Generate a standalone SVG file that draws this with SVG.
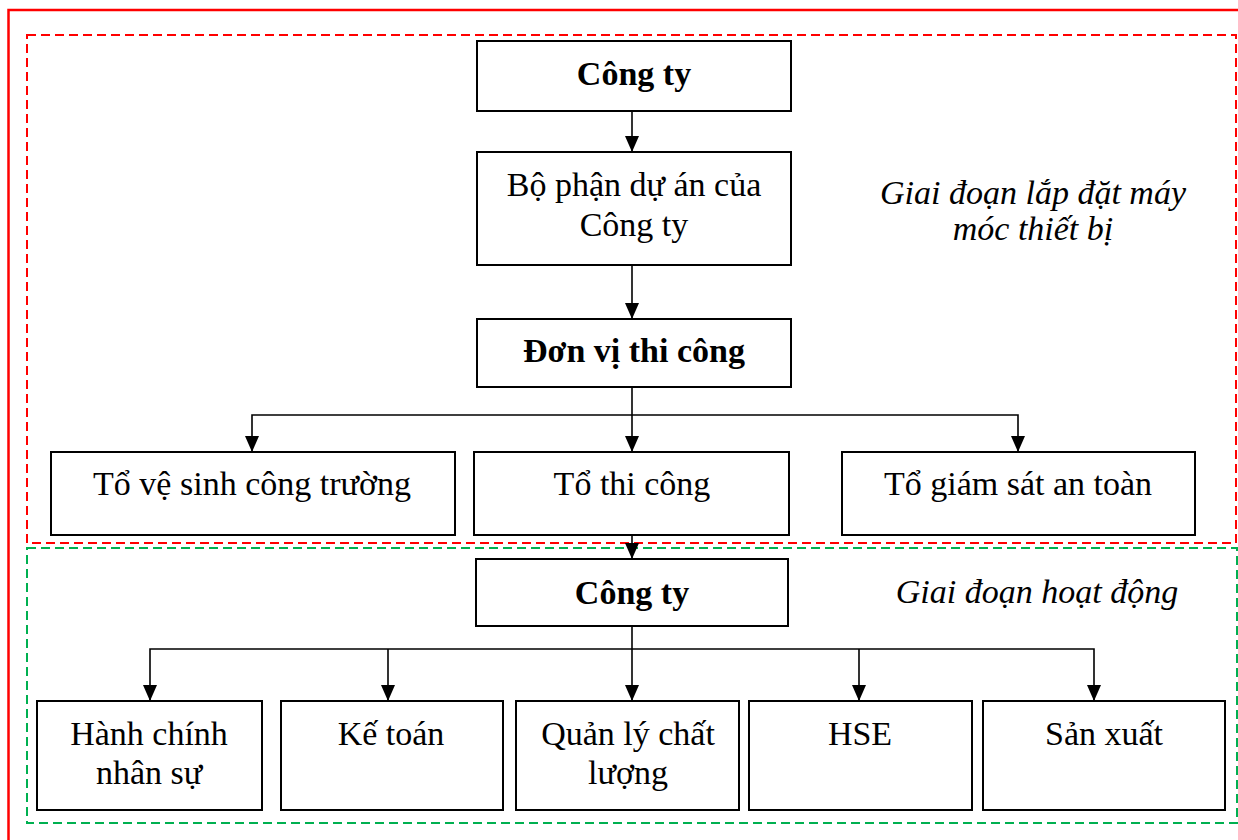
<svg xmlns="http://www.w3.org/2000/svg" width="1238" height="840" viewBox="0 0 1238 840">
<style>
.box{fill:#fff;stroke:#000;stroke-width:2}
.t{font-family:"Liberation Serif","Times New Roman",serif;font-size:34px;fill:#000;text-anchor:middle}
.b{font-weight:bold}
.i{font-style:italic}
.c{fill:none;stroke:#000;stroke-width:1.6}
.frame{fill:none;stroke:#ff0000;stroke-width:2.5}
.rd{fill:none;stroke:#ff0000;stroke-width:2;stroke-dasharray:9 5}
.gd{fill:none;stroke:#00b050;stroke-width:2;stroke-dasharray:9 5}
</style>
<defs>
<marker id="ah" markerUnits="userSpaceOnUse" markerWidth="16" markerHeight="14" viewBox="0 0 16 14" refX="16" refY="7" orient="auto-start-reverse">
<path d="M0,0 L16,7 L0,14 Z" fill="#000"/>
</marker>
</defs>
<rect width="1238" height="840" fill="#fff"/>
<rect class="frame" x="8.5" y="10" width="1240" height="840"/>
<g id="phase1-frame"><rect class="rd" x="27" y="35" width="1209" height="508"/></g>
<g id="phase2-frame"><rect class="gd" x="27" y="548" width="1210" height="275"/></g>

<g id="connectors">
<line class="c" x1="632" y1="111" x2="632" y2="152" marker-end="url(#ah)"/>
<line class="c" x1="632" y1="265" x2="632" y2="319" marker-end="url(#ah)"/>
<line class="c" x1="632" y1="387" x2="632" y2="452" marker-end="url(#ah)"/>
<polyline class="c" points="252,452 252,415 1018,415 1018,452" marker-start="url(#ah)" marker-end="url(#ah)"/>
<line class="c" x1="632" y1="535" x2="632" y2="559" marker-end="url(#ah)"/>
<line class="c" x1="632" y1="626" x2="632" y2="701" marker-end="url(#ah)"/>
<polyline class="c" points="150,701 150,649 1094,649 1094,701" marker-start="url(#ah)" marker-end="url(#ah)"/>
<line class="c" x1="388" y1="649" x2="388" y2="701" marker-end="url(#ah)"/>
<line class="c" x1="859" y1="649" x2="859" y2="701" marker-end="url(#ah)"/>
</g>

<g id="cong-ty-1"><rect class="box" x="477" y="41" width="314" height="70"/><text class="t b" x="634" y="85">Công ty</text></g>
<g id="bo-phan-du-an"><rect class="box" x="477" y="152" width="314" height="113"/><text class="t" x="634" y="196">Bộ phận dự án của</text><text class="t" x="634" y="236">Công ty</text></g>
<g id="don-vi-thi-cong"><rect class="box" x="477" y="319" width="314" height="68"/><text class="t b" x="634" y="362">Đơn vị thi công</text></g>
<g id="to-ve-sinh"><rect class="box" x="51" y="452" width="404" height="83"/><text class="t" x="252" y="495">Tổ vệ sinh công trường</text></g>
<g id="to-thi-cong"><rect class="box" x="474" y="452" width="315" height="83"/><text class="t" x="632" y="495">Tổ thi công</text></g>
<g id="to-giam-sat"><rect class="box" x="842" y="452" width="353" height="83"/><text class="t" x="1018" y="495">Tổ giám sát an toàn</text></g>
<g id="label-phase1"><text class="t i" x="1033" y="204">Giai đoạn lắp đặt máy</text><text class="t i" x="1033" y="240">móc thiết bị</text></g>

<g id="cong-ty-2"><rect class="box" x="476" y="559" width="312" height="67"/><text class="t b" x="632" y="604">Công ty</text></g>
<g id="label-phase2"><text class="t i" x="1037" y="603">Giai đoạn hoạt động</text></g>
<g id="hanh-chinh"><rect class="box" x="37" y="701" width="225" height="109"/><text class="t" x="149" y="745">Hành chính</text><text class="t" x="149" y="784">nhân sự</text></g>
<g id="ke-toan"><rect class="box" x="281" y="701" width="222" height="109"/><text class="t" x="391" y="745">Kế toán</text></g>
<g id="quan-ly-chat-luong"><rect class="box" x="516" y="701" width="223" height="109"/><text class="t" x="628" y="745">Quản lý chất</text><text class="t" x="628" y="784">lượng</text></g>
<g id="hse"><rect class="box" x="749" y="701" width="223" height="109"/><text class="t" x="860" y="745">HSE</text></g>
<g id="san-xuat"><rect class="box" x="983" y="701" width="242" height="109"/><text class="t" x="1104" y="745">Sản xuất</text></g>
</svg>
